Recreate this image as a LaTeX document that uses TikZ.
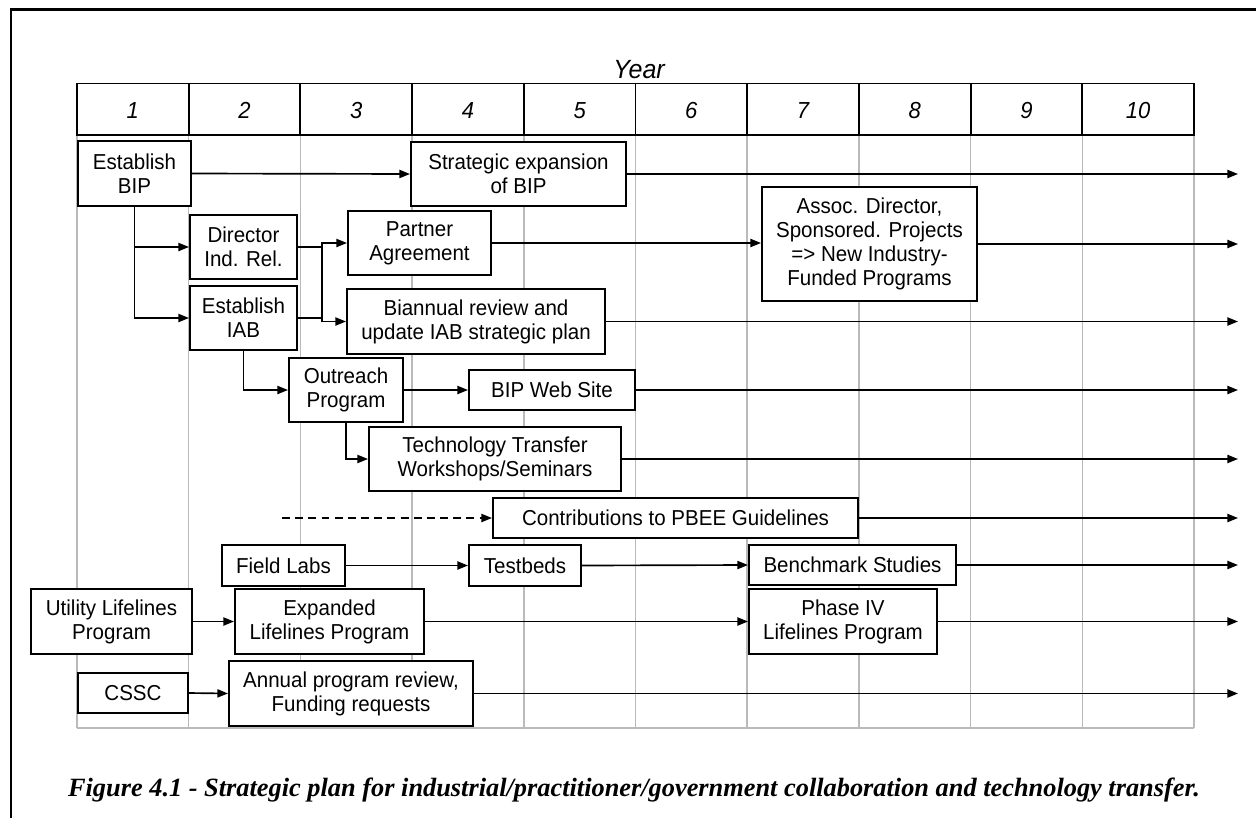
\documentclass[tikz,border=0pt]{standalone}
\usepackage{fontspec}
\setmainfont{Liberation Sans}
\newfontfamily\boxfont[FakeStretch=0.95]{Liberation Sans}
\newfontfamily\capfont{Liberation Serif}
\usetikzlibrary{arrows.meta}
\newcommand\bx[6]{\node[bbox, minimum width={0.02cm*(#4-#2)}, minimum height={0.02cm*(#5-#3)}] (#1) at ({(#2+#4)/2},{(#3+#5)/2}) {#6};}
\begin{document}
\begin{tikzpicture}[x=0.02cm,y=-0.02cm,
  bbox/.style={draw, fill=white, line width=1.15pt, align=center, inner sep=0pt, font=\boxfont\fontsize{12.3}{13.7}\selectfont},
  arr/.style={line width=0.95pt, -{Triangle[length=6pt,width=4.6pt]}},
  conn/.style={line width=0.95pt},
  gridl/.style={draw=black!27, line width=0.9pt},
  hdr/.style={font=\boxfont\fontsize{13.2}{15}\selectfont\itshape, inner sep=0pt, anchor=base},
  frame/.style={line width=1.2pt}]
\useasboundingbox (0,0) rectangle (1256,818);
\draw[frame] (11,818) -- (11,9.5) -- (1256,9.5);
% grid
\foreach \i in {0,...,10} {\draw[gridl] ({77+111.7*\i},135) -- ({77+111.7*\i},728);}
\draw[gridl] (77,728) -- (1194,728);
% header
\draw[line width=1.05pt] (77,83.5) rectangle (1194,135);
\foreach \i in {1,...,9} {\draw[line width=1.05pt] ({77+111.7*\i},83.5) -- ({77+111.7*\i},135);}
\foreach \i in {1,...,10} {\node[hdr] (h\i) at ({77+111.7*(\i-0.5)},118) {\i};}
\node[font=\boxfont\fontsize{15}{17}\selectfont\itshape, inner sep=0pt, anchor=base] (year) at (639,78) {Year};
% boxes
\bx{bip}{78}{141}{191}{206}{Establish\\BIP}
\bx{strat}{411}{142}{626}{206}{Strategic expansion\\of BIP}
\bx{dir}{190}{215}{297}{279}{Director\\Ind. Rel.}
\bx{iab}{190}{286}{297}{350}{Establish\\IAB}
\bx{partner}{348}{211}{491}{275}{Partner\\Agreement}
\bx{bian}{347}{289}{605}{354}{Biannual review and\\update IAB strategic plan}
\bx{assoc}{762}{187}{977}{301}{Assoc. Director,\\Sponsored. Projects\\=> New Industry-\\Funded Programs}
\bx{outreach}{289}{358}{403}{422}{Outreach\\Program}
\bx{web}{469}{370}{635}{410}{BIP Web Site}
\bx{tech}{369}{427}{621}{491}{Technology Transfer\\Workshops/Seminars}
\bx{contrib}{493}{498}{858}{538}{Contributions to PBEE Guidelines}
\bx{field}{222}{545}{345}{586}{Field Labs}
\bx{testbeds}{469}{545}{581}{586}{Testbeds}
\bx{bench}{749}{545}{956}{585}{Benchmark Studies}
\bx{util}{31}{589}{192}{654}{Utility Lifelines\\Program}
\bx{expanded}{235}{589}{424}{654}{Expanded\\Lifelines Program}
\bx{phase}{749}{589}{937}{654}{Phase IV\\Lifelines Program}
\bx{cssc}{78}{673}{188}{713}{CSSC}
\bx{annual}{229}{661}{473}{726}{Annual program review,\\Funding requests}
% helper coordinates
\coordinate (e) at (1238,0);
\coordinate (jx) at (322,0);
\coordinate (dstart) at (282,518);
% connectors
\draw[arr] (bip.east) -- (strat.west);
\draw[arr] (strat.east) -- (strat.east -| e);
\draw[arr] (bip.south) |- (dir.west);
\draw[arr] (bip.south) |- (iab.west);
\draw[arr] (dir.east) -- (dir.east -| jx) |- (partner.west);
\draw[arr] (iab.east) -- (iab.east -| jx) |- (bian.west);
\draw[conn] (partner.west -| jx) -- (bian.west -| jx);
\draw[arr] (partner.east) -- (partner.east -| assoc.west);
\draw[arr] (assoc.east) -- (assoc.east -| e);
\draw[arr] (bian.east) -- (bian.east -| e);
\draw[arr] (iab.south) |- (outreach.west);
\draw[arr] (outreach.east) -- (web.west);
\draw[arr] (web.east) -- (web.east -| e);
\draw[arr] (outreach.south) |- (tech.west);
\draw[arr] (tech.east) -- (tech.east -| e);
\draw[arr, dash pattern=on 4.5pt off 3pt] (dstart) -- (dstart -| contrib.west);
\draw[arr] (contrib.east) -- (contrib.east -| e);
\draw[arr] (field.east) -- (testbeds.west);
\draw[arr] (testbeds.east) -- (bench.west);
\draw[arr] (bench.east) -- (bench.east -| e);
\draw[arr] (util.east) -- (expanded.west);
\draw[arr] (expanded.east) -- (phase.west);
\draw[arr] (phase.east) -- (phase.east -| e);
\draw[arr] (cssc.east) -- (annual.west);
\draw[arr] (annual.east) -- (annual.east -| e);
% caption
\node[font=\capfont\bfseries\itshape\fontsize{15}{17}\selectfont, inner sep=0pt] (cap) at (634,790) {Figure 4.1 - Strategic plan for industrial/practitioner/government collaboration and technology transfer.};
\end{tikzpicture}
\end{document}
